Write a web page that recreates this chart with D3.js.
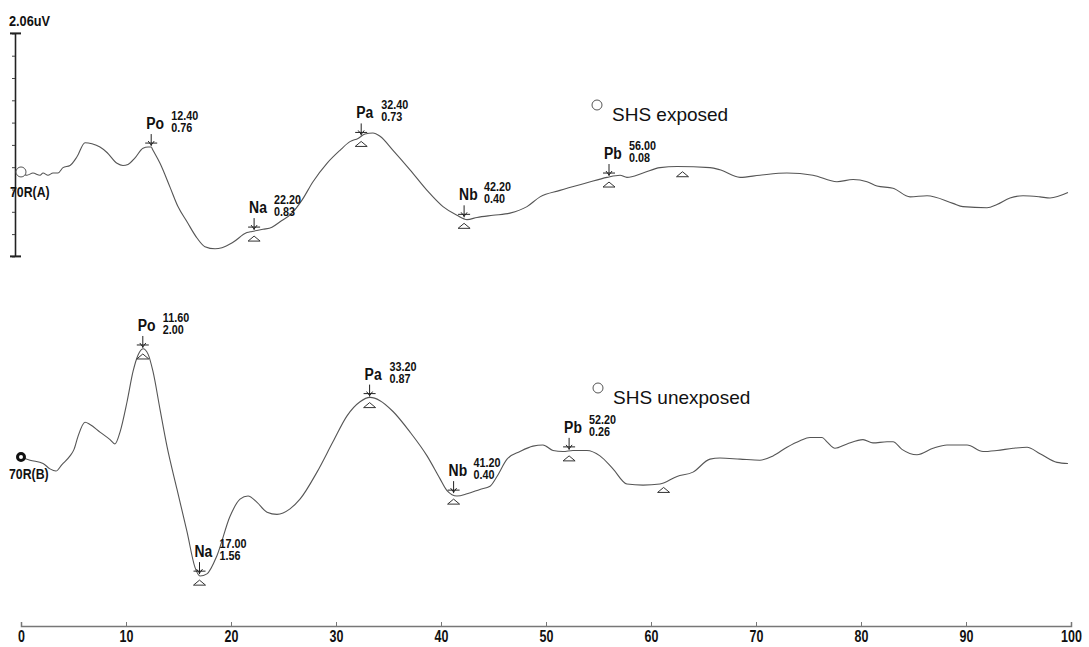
<!DOCTYPE html>
<html>
<head>
<meta charset="utf-8">
<script src="https://cdn.jsdelivr.net/npm/d3@7"></script>
<style>
  body { margin: 0; background: #fff; }
  svg { display: block; }
</style>
</head>
<body>
<div id="container"></div>
<script>
const width = 1089, height = 647;

// waveform A (SHS exposed): [latency ms, amplitude uV relative to start]
const traceA = [
  [0, 0], [0.57, -0.03], [1.14, -0.01], [1.81, -0.03], [2.10, -0.01], [2.57, -0.03], [3.05, -0.01],
  [3.52, -0.01], [4.0, 0.04], [4.67, 0.06], [5.33, 0.14], [6.10, 0.27], [6.76, 0.26], [7.52, 0.23],
  [8.19, 0.18], [9.14, 0.08], [9.71, 0.06], [10.19, 0.07], [10.86, 0.13], [11.62, 0.22], [12.10, 0.23],
  [12.4, 0.23], [12.57, 0.20], [13.24, 0.08], [14.19, -0.14], [14.95, -0.32], [15.81, -0.46],
  [16.76, -0.61], [17.52, -0.69], [18.48, -0.71], [19.14, -0.70], [20.19, -0.65], [21.52, -0.56],
  [22.0, -0.55], [23.05, -0.53], [23.90, -0.51], [24.67, -0.46], [25.81, -0.38], [26.76, -0.26],
  [27.81, -0.09], [29.14, 0.08], [30.38, 0.20], [31.33, 0.28], [32.10, 0.31], [32.76, 0.35],
  [33.52, 0.36], [34.19, 0.33], [35.43, 0.20], [37.05, 0.02], [38.67, -0.17], [40.19, -0.32],
  [41.52, -0.40], [42.48, -0.44], [43.43, -0.42], [44.95, -0.40], [46.57, -0.38], [48.19, -0.32],
  [49.43, -0.23], [51.33, -0.17], [53.90, -0.10], [55.81, -0.05], [57.05, -0.03], [57.71, -0.05],
  [59.24, -0.01], [60.86, 0.04], [62.48, 0.05], [65.62, 0.04], [66.57, 0.02], [68.48, -0.05],
  [70.38, -0.03], [72.95, -0.01], [75.43, -0.03], [77.71, -0.09], [79.24, -0.07], [80.57, -0.09],
  [81.52, -0.13], [83.05, -0.15], [84.67, -0.23], [86.29, -0.22], [88.76, -0.29], [89.71, -0.32],
  [92.0, -0.33], [92.95, -0.30], [94.19, -0.24], [95.43, -0.22], [97.05, -0.23], [98.0, -0.24],
  [99.71, -0.19]
];

// waveform B (SHS unexposed)
const traceB = [
  [0, 0], [0.86, -0.03], [2.10, -0.06], [2.76, -0.11], [3.33, -0.13], [3.90, -0.07], [4.67, 0.01],
  [5.05, 0.07], [5.43, 0.19], [6.10, 0.32], [6.57, 0.30], [7.52, 0.23], [8.48, 0.16], [8.95, 0.12],
  [9.43, 0.23], [10.10, 0.51], [10.67, 0.79], [11.14, 0.94], [11.62, 1.00], [12.10, 0.95],
  [12.57, 0.79], [13.24, 0.44], [13.90, 0.10], [14.86, -0.30], [15.81, -0.69], [16.57, -1.02],
  [17.05, -1.10], [17.71, -1.08], [18.67, -0.91], [19.90, -0.55], [20.86, -0.39], [21.62, -0.36],
  [22.48, -0.42], [23.43, -0.51], [24.38, -0.53], [25.62, -0.48], [26.57, -0.39], [28.19, -0.14],
  [29.71, 0.14], [31.05, 0.38], [32.29, 0.51], [33.24, 0.55], [34.19, 0.52], [35.43, 0.42],
  [37.05, 0.23], [38.67, 0.01], [39.90, -0.20], [40.57, -0.31], [41.52, -0.36], [42.48, -0.34],
  [43.71, -0.30], [44.67, -0.27], [45.33, -0.18], [46.29, -0.02], [47.52, 0.05], [48.76, 0.10],
  [49.71, 0.11], [50.67, 0.06], [51.62, 0.05], [52.57, 0.06], [53.90, 0.06], [55.14, 0.01],
  [56.38, -0.11], [57.71, -0.25], [59.24, -0.26], [60.86, -0.25], [62.48, -0.18], [64.0, -0.14],
  [65.62, -0.02], [66.57, -0.01], [68.48, -0.02], [70.38, -0.03], [71.62, 0.01], [72.95, 0.09],
  [74.19, 0.15], [75.14, 0.18], [76.29, 0.18], [76.76, 0.14], [77.52, 0.08], [78.67, 0.12],
  [80.19, 0.16], [81.14, 0.13], [82.48, 0.14], [83.05, 0.14], [83.90, 0.07], [85.33, 0.02],
  [86.86, 0.08], [88.19, 0.11], [90.10, 0.11], [91.62, 0.05], [92.95, 0.06], [94.48, 0.08],
  [95.81, 0.09], [97.05, 0.03], [98.67, -0.05], [99.71, -0.06]
];

// labelled peaks
const peakNames = ["Po", "Na", "Pa", "Nb", "Pb"];
const peakLatA = [12.40, 22.20, 32.40, 42.20, 56.00];
const peakAmpA = [0.76, 0.83, 0.73, 0.40, 0.08];
const peakLatB = [11.60, 17.00, 33.20, 41.20, 52.20];
const peakAmpB = [2.00, 1.56, 0.87, 0.40, 0.26];

// open triangle markers under the traces
const troughLatA = [22.2, 32.4, 42.2, 56.0, 63.0];
const troughLatB = [11.6, 17.0, 33.2, 41.2, 52.2, 61.2];

const xTicks = d3.range(0, 101, 10);
const scaleLabel = "2.06uV";
const scaleSpan = 2.06;
const legendA = "SHS exposed", legendB = "SHS unexposed";
const channelA = "70R(A)", channelB = "70R(B)";

const boldFont = "'Liberation Sans', Arial, sans-serif";
const traceColor = "#555";

const svg = d3.select("#container").append("svg")
    .attr("width", width)
    .attr("height", height);

const x = d3.scaleLinear().domain([0, 100]).range([21, 1071]);
const yA = d3.scaleLinear().domain([-0.78, -0.78 + scaleSpan]).range([256.4, 33.4]);
const yB = d3.scaleLinear().domain([-0.78, -0.78 + scaleSpan]).range([541.4, 318.4]);

// squeezed bold text, to mimic the narrow font of the original
function narrowText(px, py, str, size, squeeze) {
    return svg.append("text")
        .attr("transform", `translate(${px},${py}) scale(${squeeze},1)`)
        .text(str)
        .style("font-family", boldFont)
        .style("font-weight", "bold")
        .style("font-size", size + "px")
        .attr("fill", "#111");
}

// linear lookup of the trace at a latency
function valueAt(trace, t) {
    const i = d3.bisector(d => d[0]).left(trace, t);
    if (i <= 0) return trace[0][1];
    if (i >= trace.length) return trace[trace.length - 1][1];
    const a = trace[i - 1], b = trace[i];
    return a[1] + (b[1] - a[1]) * (t - a[0]) / (b[0] - a[0]);
}

// bottom time axis
const xAxis = svg.append("g")
    .attr("transform", "translate(0,626)")
    .call(d3.axisBottom(x).tickValues(xTicks).tickSizeInner(-4).tickSizeOuter(-4).tickPadding(5));
xAxis.select(".domain").attr("stroke", "#777").attr("stroke-width", 1.5);
xAxis.selectAll(".tick line").attr("stroke", "#777");
xAxis.selectAll("text")
    .attr("fill", "#111")
    .attr("transform", "scale(0.78,1)")
    .style("font-family", boldFont)
    .style("font-weight", "bold")
    .style("font-size", "16px");

// vertical amplitude scale bar
const yAxis = svg.append("g")
    .attr("transform", "translate(15,0)")
    .call(d3.axisLeft(yA)
        .tickValues(d3.range(11).map(i => yA.domain()[0] + i * scaleSpan / 10))
        .tickSizeInner(3).tickSizeOuter(0).tickFormat(""));
yAxis.select(".domain").attr("stroke", "#222").attr("stroke-width", 1.6);
yAxis.selectAll(".tick line").attr("stroke", "#444");
yAxis.selectAll(".cap").data(yA.domain()).join("line")
    .attr("x1", -5).attr("x2", 6)
    .attr("y1", d => yA(d)).attr("y2", d => yA(d))
    .attr("stroke", "#222").attr("stroke-width", 2);

narrowText(9, 26, scaleLabel, 15, 0.85);

function drawTrace(trace, y, opts) {
    const line = d3.line()
        .x(d => x(d[0]))
        .y(d => y(d[1]))
        .curve(d3.curveMonotoneX);

    svg.append("path")
        .datum(trace)
        .attr("d", line)
        .attr("fill", "none")
        .attr("stroke", traceColor)
        .attr("stroke-width", 1.1);

    // start marker
    const m = svg.append("circle")
        .attr("cx", x(0)).attr("cy", y(0));
    if (opts.filled) {
        m.attr("r", 3.5).attr("fill", "#fff").attr("stroke", "#111").attr("stroke-width", 3);
    } else {
        m.attr("r", 5).attr("fill", "#fff").attr("stroke", traceColor).attr("stroke-width", 1);
    }

    // channel label
    narrowText(opts.chanX, y(0) + opts.chanDy, opts.channel, 15, 0.82);

    // triangles
    opts.troughs.forEach(t => {
        const cx = x(t), top = y(valueAt(trace, t)) + 5;
        svg.append("path")
            .attr("d", `M${cx - 6},${top + 5}L${cx},${top}L${cx + 6},${top + 5}Z`)
            .attr("fill", "#fff")
            .attr("stroke", "#333")
            .attr("stroke-width", 1);
    });

    // arrows and labels
    opts.lats.forEach((t, i) => {
        const ax = x(t), tip = y(valueAt(trace, t)) - 1, top = tip - 12;
        const g = svg.append("g").attr("stroke", "#222").attr("stroke-width", 1).attr("fill", "none");
        g.append("line").attr("x1", ax).attr("x2", ax).attr("y1", top).attr("y2", tip);
        g.append("line").attr("x1", ax - 6).attr("x2", ax + 6).attr("y1", tip - 3).attr("y2", tip - 3);
        g.append("path").attr("d", `M${ax - 3},${tip - 5}L${ax},${tip - 1}L${ax + 3},${tip - 5}`);

        narrowText(ax - 5, top - 5, peakNames[i], 17, 0.82);
        narrowText(ax + 20, top - 14, d3.format(".2f")(t), 12, 0.9);
        narrowText(ax + 20, top - 2, d3.format(".2f")(opts.amps[i]), 12, 0.9);
    });

    // legend
    svg.append("circle")
        .attr("cx", opts.legendX).attr("cy", opts.legendY)
        .attr("r", 5)
        .attr("fill", "#fff").attr("stroke", "#555");
    svg.append("text")
        .attr("x", opts.legendX + 15).attr("y", opts.legendY + 16)
        .text(opts.legend)
        .style("font-family", boldFont).style("font-size", "19px")
        .attr("fill", "#111");
}

drawTrace(traceA, yA, {
    filled: false, channel: channelA, chanX: 10, chanDy: 25,
    lats: peakLatA, amps: peakAmpA, troughs: troughLatA,
    legend: legendA, legendX: 597, legendY: 105
});

drawTrace(traceB, yB, {
    filled: true, channel: channelB, chanX: 9, chanDy: 22,
    lats: peakLatB, amps: peakAmpB, troughs: troughLatB,
    legend: legendB, legendX: 598, legendY: 388
});
</script>
</body>
</html>
